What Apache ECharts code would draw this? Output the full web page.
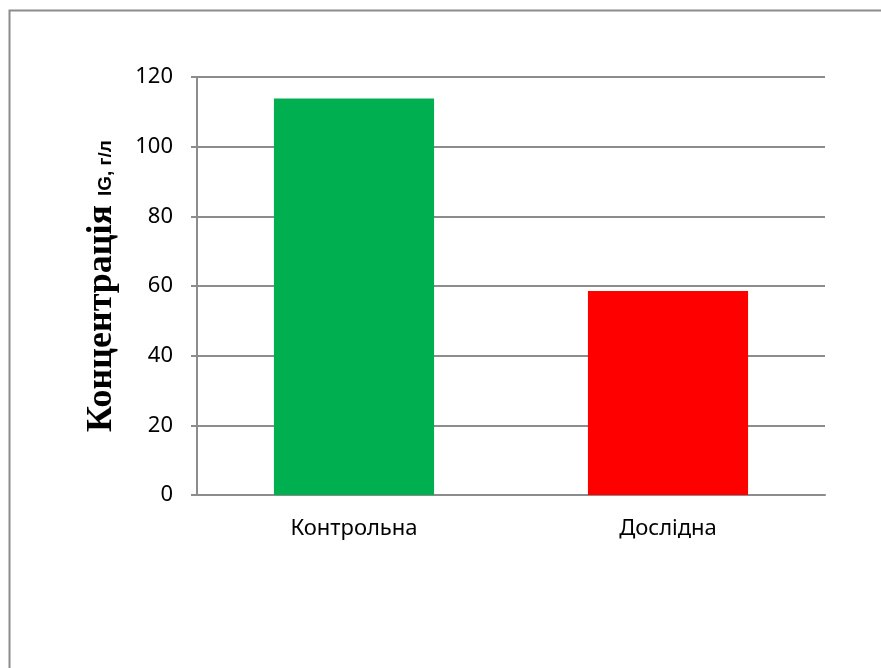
<!DOCTYPE html>
<html>
<head>
<meta charset="utf-8">
<script src="https://cdn.jsdelivr.net/npm/echarts@6/dist/echarts.min.js"></script>
<style>
	html, body { margin: 0; padding: 0; background: #fff; }
	#main { width: 881px; height: 668px; }
</style>
</head>
<body>
<div id="main"></div>
<script>
	// дані
	var categories = ['Контрольна', 'Дослідна'];
	var values = [113.8, 58.6];
	var barColors = ['#00B050', '#FF0000'];
	var yTicks = [0, 20, 40, 60, 80, 100, 120];

	var lineGray = '#8c8c8c';
	var labelFont = '"Noto Sans", "Open Sans", sans-serif';
	var serif = '"Liberation Serif", "DejaVu Serif", serif';

	var myChart = echarts.init(document.getElementById('main'));
	myChart.setOption({
		backgroundColor: '#fff',
		animation: false,
		grid: { left: 197, right: 56, top: 77, bottom: 173 },
		graphic: [{
			type: 'polyline',
			shape: { points: [[9.5, 668], [9.5, 10.5], [881, 10.5]] },
			style: { stroke: lineGray, lineWidth: 2, fill: null }
		}],
		xAxis: {
			type: 'category',
			data: categories,
			axisLine: { lineStyle: { color: lineGray, width: 2 } },
			axisTick: { show: false },
			axisLabel: { color: '#000', fontSize: 22, fontFamily: labelFont, margin: 23 }
		},
		yAxis: {
			type: 'value',
			min: yTicks[0],
			max: yTicks[yTicks.length - 1],
			interval: 20,
			name: '{a|Концентрація }{b|IG, г/л}',
			nameLocation: 'middle',
			nameGap: 77,
			nameTextStyle: {
				rich: {
					a: { fontFamily: serif, fontWeight: 'bold', fontSize: 36, color: '#000' },
					b: { fontFamily: '"Liberation Sans", Arial, sans-serif', fontWeight: 'bold', fontSize: 19, color: '#000', padding: [8, 0, 0, 0] }
				}
			},
			axisLine: { show: true, lineStyle: { color: lineGray, width: 2 } },
			axisTick: { show: true, length: 6, lineStyle: { color: lineGray, width: 2 } },
			splitLine: { lineStyle: { color: lineGray, width: 2 } },
			axisLabel: {
				color: '#000', fontSize: 22, fontFamily: labelFont, margin: 24,
				formatter: function (v) { return yTicks.indexOf(v) >= 0 ? String(v) : ''; }
			}
		},
		series: [{
			type: 'bar',
			barWidth: '51%',
			data: values.map(function (v, i) {
				return { value: v, itemStyle: { color: barColors[i] } };
			})
		}]
	});
</script>
</body>
</html>
